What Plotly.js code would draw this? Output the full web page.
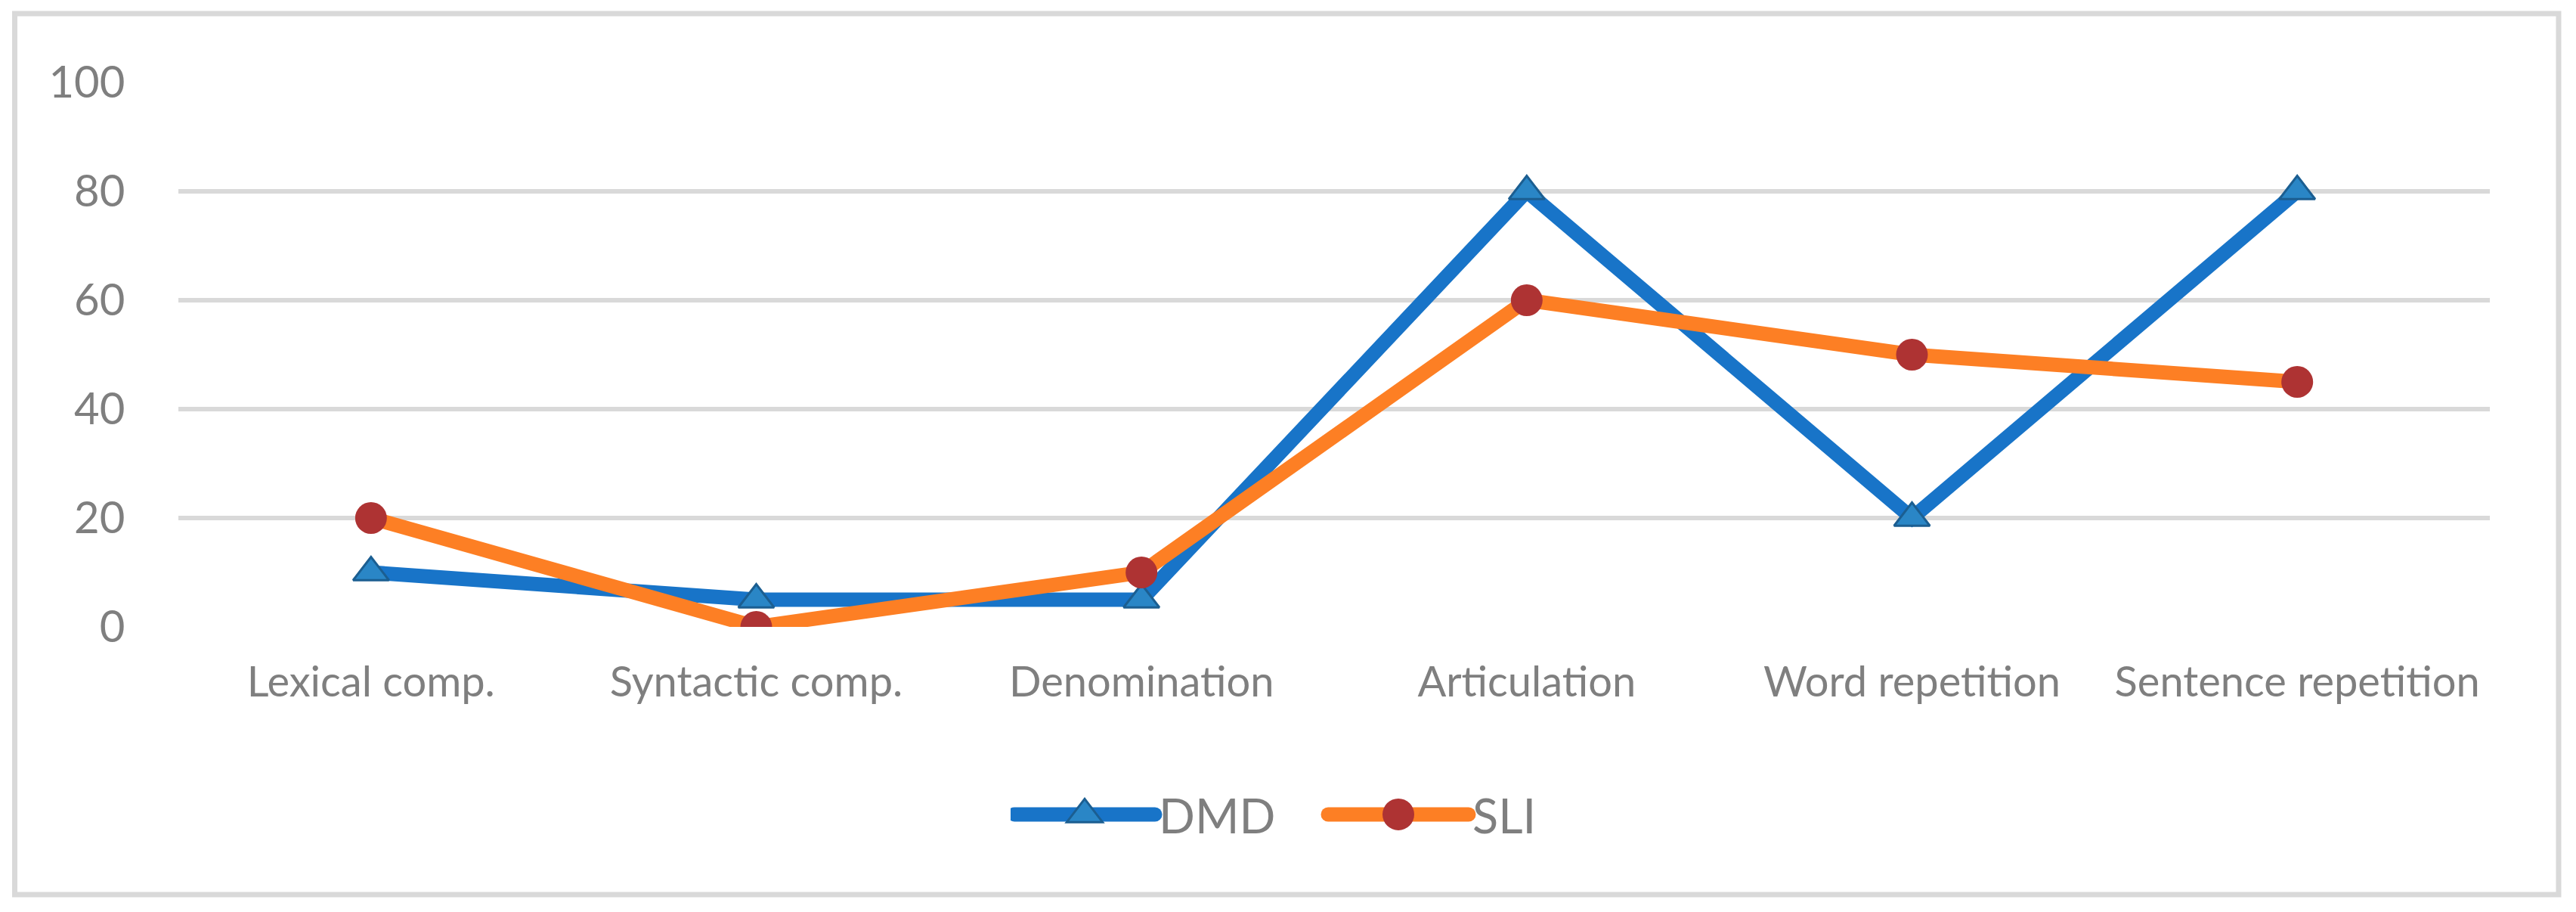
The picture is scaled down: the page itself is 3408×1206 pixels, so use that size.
<!DOCTYPE html>
<html>
<head>
<meta charset="utf-8">
<script src="https://cdn.plot.ly/plotly-3.0.1.min.js"></script>
<style>
  html, body { margin: 0; padding: 0; background: #ffffff; }
  #chart { width: 3408px; height: 1206px; }
</style>
</head>
<body>
<div id="chart"></div>
<script>
const categories = ["Lexical comp.", "Syntactic comp.", "Denomination", "Articulation", "Word repetition", "Sentence repetition"];
const dmdValues = [10, 5, 5, 80, 20, 80];
const sliValues = [20, 0, 10, 60, 50, 45];
const yTicks = [0, 20, 40, 60, 80, 100];

const W = 3408, H = 1206;
const plotL = 236, plotR = 3294, plotT = 109, plotB = 829;
const pw = plotR - plotL, ph = plotB - plotT;
const px = v => (v - plotL) / pw;
const py = v => (plotB - v) / ph;

const traces = [
  {
    type: 'scatter', mode: 'lines+markers', name: 'DMD',
    x: categories, y: dmdValues,
    line: { color: '#1874c8', width: 19 },
    marker: { symbol: 'triangle-up', size: 41, color: '#2a86c6', line: { color: '#1b5e91', width: 3 } }
  },
  {
    type: 'scatter', mode: 'lines+markers', name: 'SLI',
    x: categories, y: sliValues,
    line: { color: '#fd7f24', width: 19 },
    marker: { symbol: 'circle', size: 42, color: '#ae3333', line: { width: 0 } }
  }
];

const layout = {
  width: W, height: H,
  margin: { l: plotL, r: W - plotR, t: plotT, b: H - plotB },
  paper_bgcolor: '#ffffff', plot_bgcolor: '#ffffff',
  font: { family: 'Lato, Carlito, Calibri, sans-serif', color: '#7f7f7f', size: 56 },
  showlegend: true,
  legend: {
    orientation: 'h', x: px(1752), xanchor: 'center', y: py(1077), yanchor: 'middle',
    font: { size: 63, color: '#7f7f7f' }, itemwidth: 186, entrywidth: 410 - 186 - 10,
    bgcolor: 'rgba(0,0,0,0)'
  },
  xaxis: {
    type: 'category', range: [-0.5, 5.5], showgrid: false, zeroline: false, showline: false,
    ticks: 'outside', ticklen: 24, tickcolor: 'rgba(0,0,0,0)',
    tickfont: { size: 56, color: '#7f7f7f' }, fixedrange: true
  },
  yaxis: {
    range: [0, 100], tickvals: yTicks, ticktext: yTicks.map(String),
    showgrid: true, gridcolor: '#d9d9d9', gridwidth: 6.5, zeroline: false, showline: false,
    ticks: 'outside', ticklen: 58, tickcolor: 'rgba(0,0,0,0)',
    tickfont: { size: 58, color: '#7f7f7f' }, fixedrange: true
  },
  shapes: [
    { type: 'rect', xref: 'paper', yref: 'paper', layer: 'below',
      x0: px(19.5), x1: px(3385), y0: py(1183), y1: py(18),
      line: { color: '#d9d9d9', width: 7 }, fillcolor: 'rgba(0,0,0,0)' }
  ]
};

Plotly.newPlot('chart', traces, layout, { staticPlot: true, displayModeBar: false }).then(gd => {
  // Make legend symbols match the plotted marks (Plotly caps legend symbol sizes).
  const plotTraces = gd.querySelectorAll('.scatterlayer .trace');
  const legendTraces = gd.querySelectorAll('.legend .traces');
  legendTraces.forEach((lt, i) => {
    const src = plotTraces[i];
    if (!src) return;
    const srcPt = src.querySelector('.points path');
    const legPt = lt.querySelector('.legendpoints path');
    if (srcPt && legPt) {
      legPt.setAttribute('d', srcPt.getAttribute('d'));
      legPt.style.strokeWidth = srcPt.style.strokeWidth;
    }
    const legLine = lt.querySelector('.legendlines path');
    if (legLine) {
      legLine.style.strokeWidth = '19px';
      legLine.style.strokeLinecap = 'round';
    }
  });
});
</script>
</body>
</html>
